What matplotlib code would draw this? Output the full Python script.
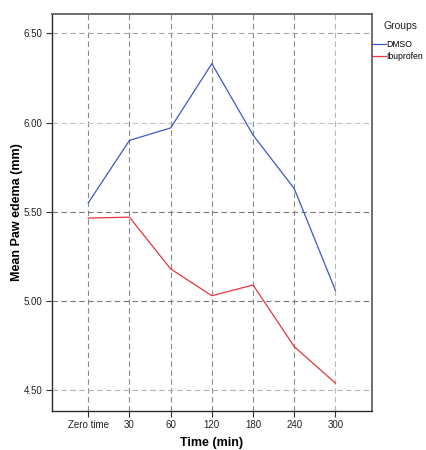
import matplotlib

matplotlib.use("Agg")
import matplotlib.pyplot as plt
from matplotlib.lines import Line2D

# Data
time_labels = ["Zero time", "30", "60", "120", "180", "240", "300"]
dmso = [5.55, 5.90, 5.97, 6.33, 5.93, 5.63, 5.06]
ibuprofen = [5.465, 5.47, 5.18, 5.03, 5.09, 4.745, 4.54]
y_ticks = [4.50, 5.00, 5.50, 6.00, 6.50]

plt.rcParams["font.family"] = ["Liberation Sans", "DejaVu Sans"]

W, H = 427, 450
fig = plt.figure(figsize=(W / 100, H / 100), dpi=100)
ax = fig.add_axes([52 / W, 1 - 410.7 / H, 319.7 / W, 396.7 / H])

xs = list(range(len(time_labels)))

# dashed grid; shades follow the reference
v_colors = ["#8a8a8a"] * 6 + ["#b8b8b8"]
h_colors = ["#b4b4b4", "#7a7a7a", "#7a7a7a", "#c4c4c4", "#a6a6a6"]
dash = (0, (5, 3))
for x, c in zip(xs, v_colors):
    ax.axvline(x, color=c, linestyle=dash, linewidth=0.8, zorder=1)
for y, c in zip(y_ticks, h_colors):
    ax.axhline(y, color=c, linestyle=dash, linewidth=0.8, zorder=1)

ax.plot(xs, dmso, color="#3a5bc7", linewidth=0.9, zorder=3)
ax.plot(xs, ibuprofen, color="#e8363b", linewidth=0.9, zorder=3)

ax.set_xlim(-0.88, 6.88)
ax.set_ylim(4.386, 6.608)
ax.set_xticks(xs)
ax.set_xticklabels(time_labels)
ax.set_yticks(y_ticks)
ax.set_yticklabels([f"{v:.2f}" for v in y_ticks])
ax.tick_params(axis="both", labelsize=7, length=4, width=0.8, color="#333333",
               labelcolor="#222222", pad=3)

for side in ["left", "bottom"]:
    ax.spines[side].set_color("#2a2a2a")
    ax.spines[side].set_linewidth(1.0)
for side in ["top", "right"]:
    ax.spines[side].set_color("#555555")
    ax.spines[side].set_linewidth(1.2)

ax.set_xlabel("Time (min)", fontsize=9, fontweight="bold")
ax.set_ylabel("Mean Paw edema (mm)", fontsize=9, fontweight="bold")
ax.xaxis.set_label_coords(0.5, (410.7 - 437) / 396.7)
ax.yaxis.set_label_coords((23 - 52) / 319.7, 0.5)

# legend at the right, title placed separately
fig.text(401 / W, 1 - 26 / H, "Groups", fontsize=7.5, ha="center", va="center",
         color="#222222")
handles = [Line2D([], [], color="#3a5bc7", linewidth=0.9),
           Line2D([], [], color="#e8363b", linewidth=0.9)]
fig.legend(handles, ["DMSO", "Ibuprofen"], loc="upper left",
           bbox_to_anchor=(372 / W, 1 - 40 / H), frameon=False,
           fontsize=6.2, handlelength=1.6, handletextpad=0.1,
           borderaxespad=0.0, borderpad=0.0, labelspacing=0.4)

fig.savefig("out.png", dpi=100)
